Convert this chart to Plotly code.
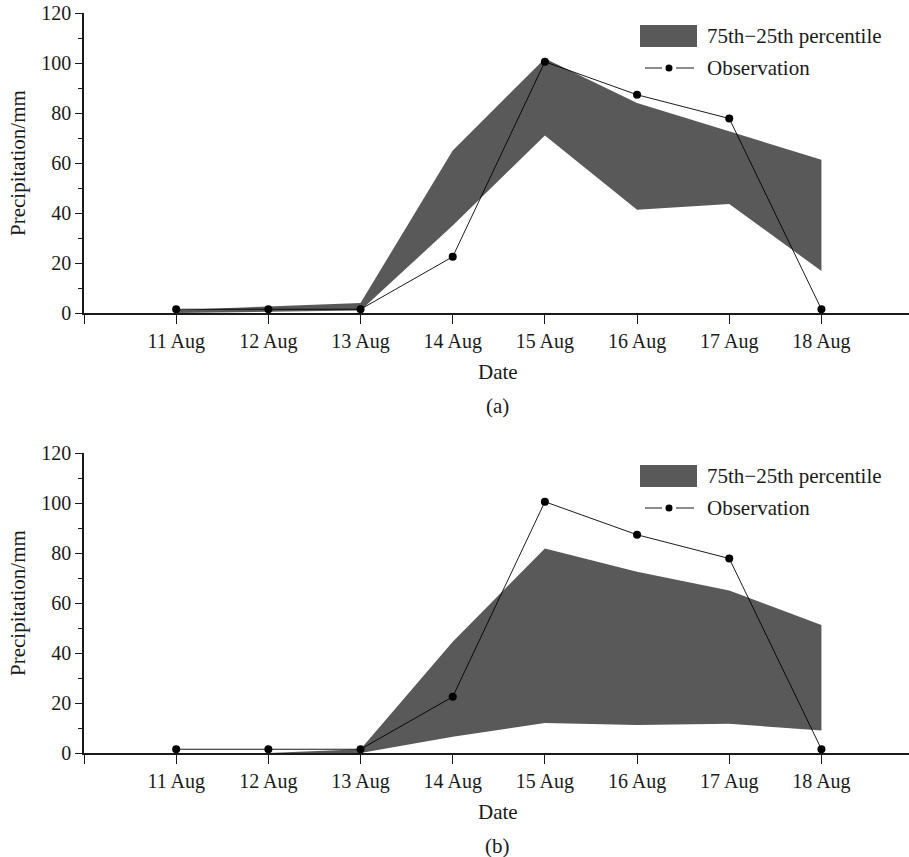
import plotly.graph_objects as go
from plotly.subplots import make_subplots

# ---------------- data ----------------
dates = ['11 Aug', '12 Aug', '13 Aug', '14 Aug', '15 Aug', '16 Aug', '17 Aug', '18 Aug']
observation = [1.5, 1.5, 1.5, 22.5, 100.5, 87.3, 77.8, 1.5]

a_p75 = [1.2, 2.6, 4.0, 65.0, 101.8, 84.0, 72.5, 61.3]
a_p25 = [0.0, 0.5, 1.0, 35.0, 71.0, 41.3, 43.6, 16.8]

b_p75 = [0.0, 0.0, 1.5, 44.5, 81.8, 72.5, 65.0, 51.2]
b_p25 = [0.0, 0.0, 0.0, 6.5, 12.0, 11.2, 11.7, 9.0]

y_ticks = [0, 20, 40, 60, 80, 100, 120]
band_label = '75th\u221225th percentile'
obs_label = 'Observation'
panel_labels = ['(a)', '(b)']

# ---------------- layout helpers ----------------
W, H = 909, 857
FONT = 'Liberation Serif'
INK = '#1a1a1a'
BAND = '#595959'
xs = list(range(len(dates)))


def px_x(p):
    return p / W


def px_y(p):
    return 1 - p / H


fig = make_subplots(rows=2, cols=1)

panels = [(a_p75, a_p25, 1, 13, 313), (b_p75, b_p25, 2, 453, 753)]

for (up, lo, row, top, bot) in panels:
    fig.add_trace(go.Scatter(
        x=xs + xs[::-1], y=up + lo[::-1], fill='toself', fillcolor=BAND,
        mode='lines', line=dict(width=0, color=BAND), showlegend=False,
        hoverinfo='skip'), row=row, col=1)
    fig.add_trace(go.Scatter(
        x=xs, y=observation, mode='lines+markers',
        line=dict(color='black', width=0.9),
        marker=dict(color='black', size=8), showlegend=False,
        cliponaxis=False), row=row, col=1)

axis_common = dict(showline=True, linecolor=INK, linewidth=1.6, showgrid=False,
                   zeroline=False, ticks='outside', tickcolor=INK, tickwidth=1.4,
                   automargin=False,
                   tickfont=dict(family=FONT, size=20, color=INK))

for i, (up, lo, row, top, bot) in enumerate(panels):
    xa = 'xaxis' if row == 1 else 'xaxis2'
    ya = 'yaxis' if row == 1 else 'yaxis2'
    fig.layout[xa].update(
        domain=[px_x(84), 1.0], range=[-1, 7.95],
        tickmode='array', tickvals=[-1] + xs, ticktext=[''] + dates,
        ticklen=9, **axis_common)
    fig.layout[ya].update(
        domain=[px_y(bot), px_y(top)], range=[0, 120],
        tickmode='array', tickvals=y_ticks, ticklen=7,
        minor=dict(ticks='outside', dtick=10, tick0=0, ticklen=4,
                   tickcolor=INK, tickwidth=1.2),
        **axis_common)

    # axis titles and panel labels
    fig.add_annotation(text='Precipitation/mm', textangle=-90, xref='paper', yref='paper',
                       x=px_x(18), y=px_y((top + bot) / 2), showarrow=False,
                       xanchor='center', yanchor='middle',
                       font=dict(family=FONT, size=21, color=INK))
    fig.add_annotation(text='Date', xref='paper', yref='paper',
                       x=px_x(498), y=px_y(bot + 59), showarrow=False,
                       xanchor='center', yanchor='middle',
                       font=dict(family=FONT, size=21, color=INK))
    fig.add_annotation(text=panel_labels[i], xref='paper', yref='paper',
                       x=px_x(498), y=px_y(bot + 93), showarrow=False,
                       xanchor='center', yanchor='middle',
                       font=dict(family=FONT, size=21, color=INK))

    # legend (drawn in paper space)
    off = top - 13
    fig.add_shape(type='rect', xref='paper', yref='paper',
                  x0=px_x(640), x1=px_x(697), y0=px_y(off + 47), y1=px_y(off + 25),
                  fillcolor=BAND, line=dict(width=0))
    fig.add_annotation(text=band_label, xref='paper', yref='paper',
                       x=px_x(705), y=px_y(off + 36), showarrow=False,
                       xanchor='left', yanchor='middle',
                       font=dict(family=FONT, size=21, color=INK))
    ly = px_y(off + 68)
    fig.add_shape(type='line', xref='paper', yref='paper',
                  x0=px_x(645), x1=px_x(662), y0=ly, y1=ly,
                  line=dict(color='black', width=0.9))
    fig.add_shape(type='line', xref='paper', yref='paper',
                  x0=px_x(676), x1=px_x(694), y0=ly, y1=ly,
                  line=dict(color='black', width=0.9))
    fig.add_shape(type='circle', xref='paper', yref='paper',
                  x0=px_x(665.5), x1=px_x(672.5), y0=px_y(off + 71.5), y1=px_y(off + 64.5),
                  fillcolor='black', line=dict(width=0))
    fig.add_annotation(text=obs_label, xref='paper', yref='paper',
                       x=px_x(705), y=ly, showarrow=False,
                       xanchor='left', yanchor='middle',
                       font=dict(family=FONT, size=21, color=INK))

fig.update_layout(template='none', width=W, height=H,
                  margin=dict(l=0, r=0, t=0, b=0, pad=0, autoexpand=False),
                  paper_bgcolor='white', plot_bgcolor='white', showlegend=False)

fig.write_html('out.html')
